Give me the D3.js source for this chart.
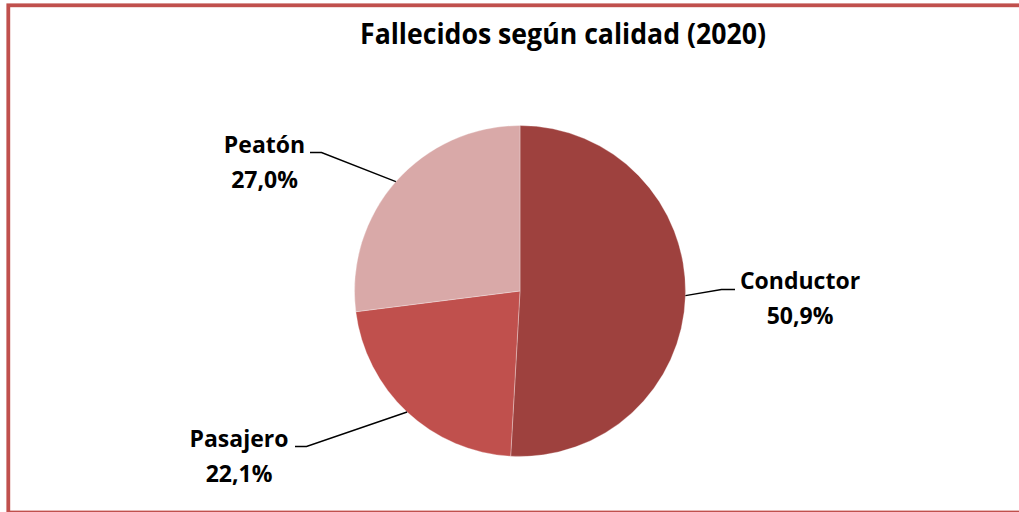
<!DOCTYPE html>
<html>
<head>
<meta charset="utf-8">
<script src="https://cdn.jsdelivr.net/npm/d3@7"></script>
<style>
  html, body { margin: 0; padding: 0; background: #fff; }
  svg { display: block; }
  text { font-family: "Open Sans", Lato, sans-serif; font-weight: bold; fill: #000; }
</style>
</head>
<body>
<svg id="chart" width="1019" height="512"></svg>
<script>
// ---- data ----
const categories = ["Conductor", "Pasajero", "Peatón"];
const values = [50.9, 22.1, 27.0];
const valueLabels = ["50,9%", "22,1%", "27,0%"];
const title = "Fallecidos según calidad (2020)";

// ---- styles / layout ----
const colors = ["#9e413e", "#c0504d", "#d9a9a8"];
const cx = 520, cy = 291, R = 165.5;
// label layout: elbow point of leader line, end of horizontal tick, text center
const labelLayout = [
  { elbow: [721.5, 289.5], end: [735, 289.5], textX: 800, textY: 288.5 },
  { elbow: [306.5, 446.5], end: [295, 446.5], textX: 239, textY: 446.5 },
  { elbow: [321.5, 152.5], end: [310, 152.5], textX: 264.5, textY: 153 }
];

const svg = d3.select("#chart");

// border
svg.append("rect")
  .attr("x", 8.3).attr("y", 5.3)
  .attr("width", 1040).attr("height", 507.2)
  .attr("fill", "none")
  .attr("stroke", "#c0504d")
  .attr("stroke-width", 3.8);

// title
svg.append("text")
  .attr("x", 563).attr("y", 44)
  .attr("text-anchor", "middle")
  .attr("textLength", 406)
  .attr("lengthAdjust", "spacingAndGlyphs")
  .style("font-size", "29px")
  .text(title);

const data = categories.map((c, i) => ({ cat: c, value: values[i], label: valueLabels[i], i }));

const pie = d3.pie().sort(null).value(d => d.value);
const arcs = pie(data);
const arc = d3.arc().innerRadius(0).outerRadius(R);

const g = svg.append("g").attr("transform", `translate(${cx},${cy})`);
g.selectAll("path.slice")
  .data(arcs)
  .enter().append("path")
  .attr("class", "slice")
  .attr("d", arc)
  .attr("fill", d => colors[d.data.i])
  .attr("stroke", "#ffffff")
  .attr("stroke-opacity", 0.5)
  .attr("stroke-width", 0.6);

// leader lines + labels
arcs.forEach(a => {
  const L = labelLayout[a.data.i];
  const [ex, ey] = arc.centroid(a).map(v => v * 2); // point on the rim at mid-angle
  const p0 = [cx + ex, cy + ey];
  svg.append("path")
    .attr("d", d3.line()([p0, L.elbow, L.end]))
    .attr("fill", "none")
    .attr("stroke", "#000")
    .attr("stroke-width", 1.4);
  const t = svg.append("text")
    .attr("x", L.textX).attr("y", L.textY)
    .attr("text-anchor", "middle")
    .style("font-size", "23px");
  t.append("tspan").attr("x", L.textX).attr("dy", 0).text(a.data.cat);
  t.append("tspan").attr("x", L.textX).attr("dy", 35).text(a.data.label);
});
</script>
</body>
</html>
